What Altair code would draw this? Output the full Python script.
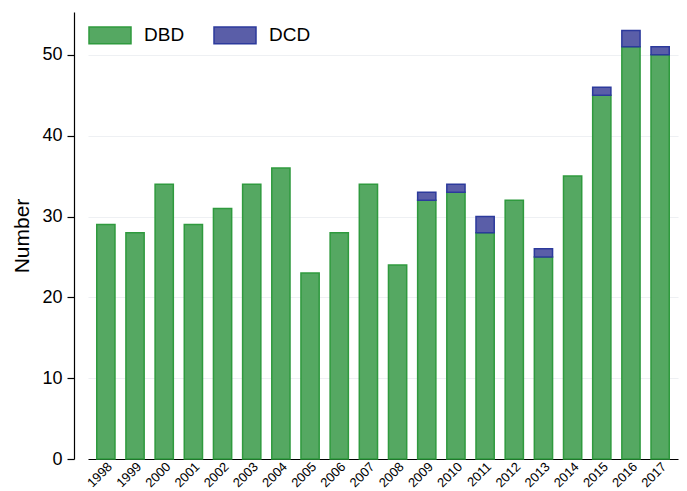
import altair as alt
import pandas as pd

years = [str(y) for y in range(1998, 2018)]
dbd = [29, 28, 34, 29, 31, 34, 36, 23, 28, 34, 24, 32, 33, 28, 32, 25, 35, 45, 51, 50]
dcd = [0, 0, 0, 0, 0, 0, 0, 0, 0, 0, 0, 1, 1, 2, 0, 1, 0, 1, 2, 1]
series = ["DBD", "DCD"]
fills = ["#55a862", "#5a5ea8"]
strokes = ["#2f9a3e", "#2c3a9c"]

rows = []
for y, a, b in zip(years, dbd, dcd):
    rows.append({"year": y, "series": "DBD", "value": a, "ord": 0})
    rows.append({"year": y, "series": "DCD", "value": b, "ord": 1})
df = pd.DataFrame(rows)

font = "Liberation Sans"

leg = dict(title=None, orient="none", legendX=8, legendY=-5,
           direction="horizontal", fillColor="white",
           padding=6, columnPadding=26,
           symbolType="M-1,-0.4L1,-0.4L1,0.4L-1,0.4Z",
           symbolSize=1764, symbolStrokeWidth=1.5,
           labelFontSize=19, labelFont=font, labelColor="black",
           labelOffset=12, symbolOpacity=1)

chart = alt.Chart(df).mark_bar(strokeWidth=1.5).encode(
    x=alt.X("year:N", sort=years, title=None,
            scale=alt.Scale(range=[14, 604], paddingInner=0.375, paddingOuter=0.3),
            axis=alt.Axis(labelAngle=-45, labelAlign="right", labelBaseline="top",
                          labelFontSize=13, labelColor="black", labelFont=font,
                          domainColor="black", domainWidth=1.2, ticks=False,
                          labelPadding=1)),
    y=alt.Y("value:Q", stack="zero", title="Number",
            scale=alt.Scale(domain=[0, 55.3], nice=False),
            axis=alt.Axis(values=[0, 10, 20, 30, 40, 50], labelFontSize=18,
                          labelColor="black", labelFont=font, titleFont=font,
                          titleFontSize=21, titleFontWeight="normal", titleColor="black",
                          domainColor="black", domainWidth=1.2, tickColor="black",
                          tickSize=7, tickWidth=1.2, labelPadding=5, titlePadding=9,
                          gridColor="#eef0f3", gridWidth=1.2)),
    fill=alt.Fill("series:N", scale=alt.Scale(domain=series, range=fills),
                  legend=alt.Legend(**leg)),
    stroke=alt.Stroke("series:N", scale=alt.Scale(domain=series, range=strokes),
                      legend=alt.Legend(**leg)),
    order=alt.Order("ord:Q"),
).transform_filter(
    alt.datum.value > 0
).properties(
    width=605, height=447,
    autosize=alt.AutoSizeParams(type="none"),
    padding={"left": 66, "top": 4, "right": 0, "bottom": 32},
).configure_view(stroke=None).configure_axisX(grid=False)

chart.save("out.html", embed_options={"renderer": "svg", "actions": False})
